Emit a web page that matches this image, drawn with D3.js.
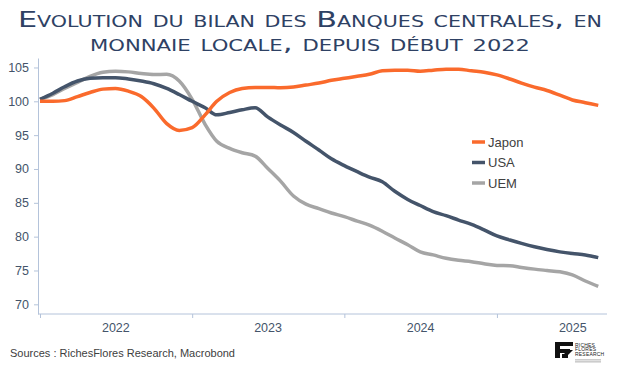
<!DOCTYPE html>
<html>
<head>
<meta charset="utf-8">
<script src="https://cdn.jsdelivr.net/npm/d3@7"></script>
<style>
  body { margin: 0; background: #fff; }
  svg text { font-family: "Liberation Sans", Arial, sans-serif; }
</style>
</head>
<body>
<svg id="chart" width="620" height="371"></svg>
<script>
// data : monthly, index 100 = debut 2022
var months = d3.timeMonth.range(new Date(2022, 0, 1), new Date(2025, 9, 1));

var japon = [100.0, 100.0, 100.1, 100.7, 101.3, 101.8, 101.9, 101.5, 100.7, 99.0, 96.7, 95.7,
             96.1, 98.0, 100.0, 101.3, 101.9, 102.05, 102.05, 102.0, 102.1, 102.4, 102.7, 103.1,
             103.4, 103.7, 104.0, 104.5, 104.6, 104.6, 104.45, 104.6, 104.75, 104.75, 104.5, 104.3,
             103.9, 103.3, 102.7, 102.1, 101.6, 100.9, 100.2, 99.8, 99.4];
var usa   = [100.3, 101.2, 102.15, 103.0, 103.4, 103.5, 103.5, 103.3, 103.0, 102.6, 101.9, 101.0,
             100.0, 99.05, 98.0, 98.35, 98.75, 99.05, 97.7, 96.5, 95.4, 94.1, 92.8, 91.5,
             90.5, 89.6, 88.8, 88.1, 86.7, 85.5, 84.6, 83.7, 83.1, 82.45, 81.8, 81.0,
             80.1, 79.5, 79.0, 78.5, 78.1, 77.75, 77.5, 77.3, 76.9];
var uem   = [100.3, 101.0, 101.9, 102.8, 103.7, 104.3, 104.45, 104.35, 104.1, 103.95, 104.0, 103.0,
             100.3, 96.6, 94.1, 93.05, 92.4, 91.9, 90.1, 88.2, 86.0, 84.8, 84.15, 83.5,
             82.95, 82.3, 81.7, 80.8, 79.8, 78.8, 77.75, 77.3, 76.8, 76.5, 76.3, 76.0,
             75.75, 75.7, 75.45, 75.2, 75.0, 74.8, 74.35, 73.45, 72.65];

var seriesNames  = ["Japon", "USA", "UEM"];
var seriesColors = ["#FA6A2C", "#44546A", "#A5A5A5"];
var yTicks = [70, 75, 80, 85, 90, 95, 100, 105];
var years  = [2022, 2023, 2024, 2025];

var svg = d3.select("#chart");

// title
var title = svg.append("g")
  .style("font-variant", "small-caps")
  .style("font-size", "22px")
  .style("fill", "#2E4164");
title.append("text")
  .attr("x", 310).attr("y", 27)
  .attr("text-anchor", "middle")
  .attr("textLength", 584).attr("lengthAdjust", "spacingAndGlyphs")
  .style("font-family", "'DejaVu Sans', sans-serif")
  .text("Evolution du bilan des Banques centrales, en");
var t2 = title.append("text")
  .attr("x", 310).attr("y", 51)
  .attr("text-anchor", "middle")
  .attr("textLength", 440).attr("lengthAdjust", "spacingAndGlyphs")
  .style("font-family", "'DejaVu Sans', sans-serif");
t2.append("tspan").text("monnaie locale, depuis début ");
t2.append("tspan").style("font-size", "16px").text("2022");

// scales
var x = d3.scaleTime()
  .domain([new Date(2022, 0, 1), new Date(2025, 8, 22)])
  .range([40, 607]);
var y = d3.scaleLinear()
  .domain([68.57, 106.4])
  .range([314, 58]);

// axes
var axisColor = "#B4C3DA";
var yAxis = svg.append("g")
  .attr("transform", "translate(38,0)")
  .call(d3.axisLeft(y).tickValues(yTicks).tickSize(4).tickSizeOuter(0).tickPadding(5));
yAxis.selectAll("path, line").style("stroke", axisColor);
yAxis.selectAll("text")
  .style("font-family", "'Liberation Sans', Arial, sans-serif")
  .style("font-size", "12.5px").style("fill", "#44546A");

var xAxis = svg.append("g")
  .attr("transform", "translate(0,314)")
  .call(d3.axisBottom(x)
    .tickValues(years.map(function(d){ return new Date(d, 0, 1); }))
    .tickFormat("").tickSize(4).tickSizeOuter(0));
xAxis.select("path").attr("d", "M38,0H607").style("stroke", axisColor);
xAxis.selectAll("line").style("stroke", axisColor);

svg.selectAll(".year")
  .data(years)
  .enter().append("text")
    .attr("class", "year")
    .attr("x", function(d){ return x(new Date(d, 6, 2)); })
    .attr("y", 332)
    .attr("text-anchor", "middle")
    .style("font-size", "12.5px")
    .style("fill", "#44546A")
    .text(function(d){ return d; });

// lines
var line = d3.line()
  .x(function(d, i){ return x(months[i]); })
  .y(function(d){ return y(d); })
  .curve(d3.curveMonotoneX);

[japon, usa, uem].slice().reverse().forEach(function(s, k){
  var idx = 2 - k;
  svg.append("path")
    .datum(s)
    .attr("d", line)
    .style("fill", "none")
    .style("stroke", seriesColors[idx])
    .style("stroke-width", 3.5)
    .style("stroke-linejoin", "round");
});

// legend
var legend = svg.append("g");
seriesNames.forEach(function(name, i){
  var ly = 142 + i * 20.5;
  legend.append("line")
    .attr("x1", 472).attr("x2", 485)
    .attr("y1", ly).attr("y2", ly)
    .style("stroke", seriesColors[i]).style("stroke-width", 3.5);
  legend.append("text")
    .attr("x", 488).attr("y", ly + 4.5)
    .style("font-size", "13px").style("fill", "#404040")
    .text(name);
});

// sources
svg.append("text")
  .attr("x", 10).attr("y", 357)
  .style("font-size", "11px").style("fill", "#404040")
  .text("Sources : RichesFlores Research, Macrobond");

// logo
var logo = svg.append("g").attr("transform", "translate(555,342)");
logo.append("path")
  .attr("d", "M0,0H18V4H5V7H15V11H5V16H0Z M7,12H13V16H7Z")
  .style("fill", "#111");
logo.append("path")
  .attr("d", "M9,12L13,8H18L13,13Z")
  .style("fill", "#111");
["RICHES", "FLORES", "RESEARCH"].forEach(function(t, i){
  logo.append("text")
    .attr("x", 20).attr("y", 4.5 + i * 4.5)
    .style("font-size", "5px").style("fill", "#222")
    .style("letter-spacing", "0.2px")
    .text(t);
});
logo.append("rect").attr("x", 20).attr("y", 17.5).attr("width", 26).attr("height", 0.8).style("fill", "#999");
logo.append("rect").attr("x", 20).attr("y", 19.5).attr("width", 26).attr("height", 0.8).style("fill", "#999");
</script>
</body>
</html>
